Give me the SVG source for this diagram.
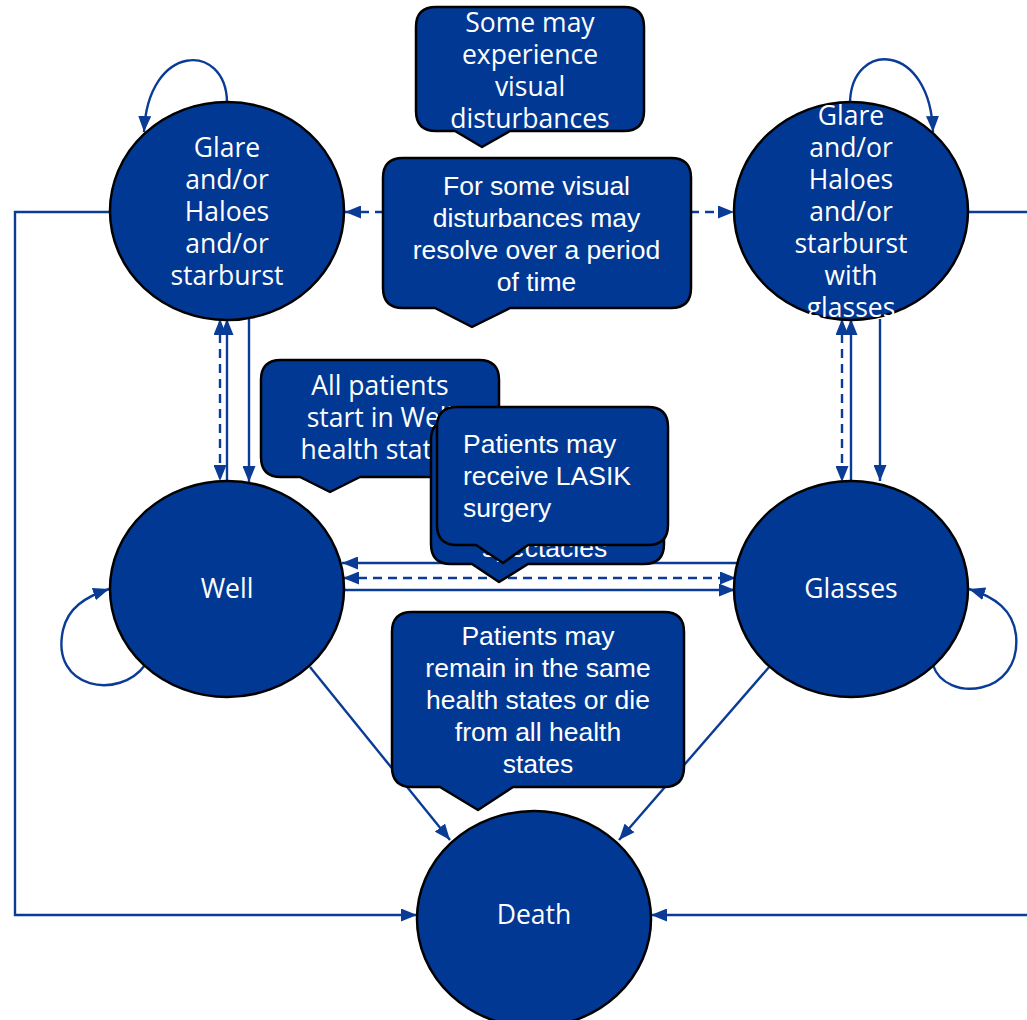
<svg xmlns="http://www.w3.org/2000/svg" width="1027" height="1020" viewBox="0 0 1027 1020">
<defs>
<style>
.node{fill:#003893;stroke:#000;stroke-width:2.5}
.call{fill:#003893;stroke:#000;stroke-width:2.5;stroke-linejoin:round}
.ln{fill:none;stroke:#0a3c96;stroke-width:2.4}
.dash{stroke-dasharray:9 6}
.os{font-family:"Open Sans","DejaVu Sans",sans-serif;font-size:26.5px;fill:#fff;text-anchor:middle}
.ar{font-family:"Liberation Sans",Arial,sans-serif;font-size:26.5px;fill:#fff;text-anchor:middle}
.arl{font-family:"Liberation Sans",Arial,sans-serif;font-size:26.5px;fill:#fff;text-anchor:start}
</style>
<marker id="ah" viewBox="0 0 16 13" refX="16" refY="6.5" markerWidth="16" markerHeight="13" markerUnits="userSpaceOnUse" orient="auto-start-reverse">
<path d="M0,0 L16,6.5 L0,13 Z" fill="#0a3c96"/>
</marker>
</defs>
<rect width="1027" height="1020" fill="#fff"/>
<g id="connectors">
<path class="ln" d="M110,212 H15 V915 H417" marker-end="url(#ah)"/>
<path class="ln" d="M968,212 H1040 V915 H651" marker-end="url(#ah)"/>
<path class="ln dash" d="M345,212 H734" marker-start="url(#ah)" marker-end="url(#ah)"/>
<path class="ln" d="M227,102 C226,42 148,42 144,132" marker-end="url(#ah)"/>
<path class="ln" d="M850,102 C852,40 930,42 933,132" marker-end="url(#ah)"/>
<path class="ln" d="M145,665 C120,700 50,690 63,630 C68,608 85,597 109,589" marker-end="url(#ah)"/>
<path class="ln" d="M933,665 C945,703 1022,697 1016,635 C1013,610 995,597 969,589" marker-end="url(#ah)"/>
<path class="ln dash" d="M220,319 V481" marker-start="url(#ah)" marker-end="url(#ah)"/>
<path class="ln" d="M227,481 V319" marker-end="url(#ah)"/>
<path class="ln" d="M249,319 V482" marker-end="url(#ah)"/>
<path class="ln dash" d="M842,319 V482" marker-start="url(#ah)" marker-end="url(#ah)"/>
<path class="ln" d="M851,481 V319" marker-end="url(#ah)"/>
<path class="ln" d="M880,319 V481" marker-end="url(#ah)"/>
<path class="ln" d="M737,563 H342" marker-end="url(#ah)"/>
<path class="ln dash" d="M343,578 H736" marker-start="url(#ah)" marker-end="url(#ah)"/>
<path class="ln" d="M344,590 H735" marker-end="url(#ah)"/>
<path class="ln" d="M310,667 L450,840" marker-end="url(#ah)"/>
<path class="ln" d="M770,666 L619,840" marker-end="url(#ah)"/>
</g>
<g id="node-glare">
<ellipse class="node" cx="227" cy="211" rx="117" ry="109"/>
<text class="os"><tspan x="227" y="157">Glare</tspan><tspan x="227" y="189">and/or</tspan><tspan x="227" y="221">Haloes</tspan><tspan x="227" y="253">and/or</tspan><tspan x="227" y="285">starburst</tspan></text>
</g>
<g id="node-glare-glasses">
<ellipse class="node" cx="851" cy="211" rx="117" ry="109"/>
<text class="os"><tspan x="851" y="125">Glare</tspan><tspan x="851" y="157">and/or</tspan><tspan x="851" y="189">Haloes</tspan><tspan x="851" y="221">and/or</tspan><tspan x="851" y="253">starburst</tspan><tspan x="851" y="285">with</tspan><tspan x="851" y="317">glasses</tspan></text>
</g>
<g id="node-well">
<ellipse class="node" cx="227" cy="589" rx="117" ry="108"/>
<text class="os" x="227" y="598">Well</text>
</g>
<g id="node-glasses">
<ellipse class="node" cx="851" cy="589" rx="117" ry="108"/>
<text class="os" x="851" y="598">Glasses</text>
</g>
<g id="node-death">
<ellipse class="node" cx="534" cy="919" rx="117" ry="108"/>
<text class="os" x="534" y="924">Death</text>
</g>
<g id="callout-experience">
<path class="call" d="M436,7 H624 Q644,7 644,27 V111 Q644,131 624,131 H510 L482,147 L455,131 H436 Q416,131 416,111 V27 Q416,7 436,7 Z"/>
<text class="os"><tspan x="530" y="32">Some may</tspan><tspan x="530" y="64">experience</tspan><tspan x="530" y="96">visual</tspan><tspan x="530" y="128">disturbances</tspan></text>
</g>
<g id="callout-resolve">
<path class="call" d="M403,158 H671 Q691,158 691,178 V288 Q691,308 671,308 H510 L472,327 L435,308 H403 Q383,308 383,288 V178 Q383,158 403,158 Z"/>
<text class="ar"><tspan x="536.5" y="195">For some visual</tspan><tspan x="536.5" y="227">disturbances may</tspan><tspan x="536.5" y="259">resolve over a period</tspan><tspan x="536.5" y="291">of time</tspan></text>
</g>
<g id="callout-start">
<path class="call" d="M281,360 H479 Q499,360 499,380 V457 Q499,477 479,477 H360 L330,492 L300,477 H281 Q261,477 261,457 V380 Q261,360 281,360 Z"/>
<text class="os"><tspan x="380" y="395">All patients</tspan><tspan x="380" y="427">start in Well</tspan><tspan x="380" y="459">health states</tspan></text>
</g>
<g id="callout-spectacles">
<path class="call" d="M451,420 H644 Q664,420 664,440 V544 Q664,564 644,564 H528 L499,582 L472,564 H451 Q431,564 431,544 V440 Q431,420 451,420 Z"/>
<text class="arl" x="482" y="557">spectacles</text>
</g>
<g id="callout-lasik">
<path class="call" d="M457,407 H648 Q668,407 668,427 V525 Q668,545 648,545 H528 L503,563 L476,545 H457 Q437,545 437,525 V427 Q437,407 457,407 Z"/>
<text class="arl"><tspan x="463" y="453">Patients may</tspan><tspan x="463" y="485">receive LASIK</tspan><tspan x="463" y="517">surgery</tspan></text>
</g>
<g id="callout-remain">
<path class="call" d="M412,612 H664 Q684,612 684,632 V767 Q684,787 664,787 H513 L478,810 L440,787 H412 Q392,787 392,767 V632 Q392,612 412,612 Z"/>
<text class="ar"><tspan x="538" y="645">Patients may</tspan><tspan x="538" y="677">remain in the same</tspan><tspan x="538" y="709">health states or die</tspan><tspan x="538" y="741">from all health</tspan><tspan x="538" y="773">states</tspan></text>
</g>
</svg>
